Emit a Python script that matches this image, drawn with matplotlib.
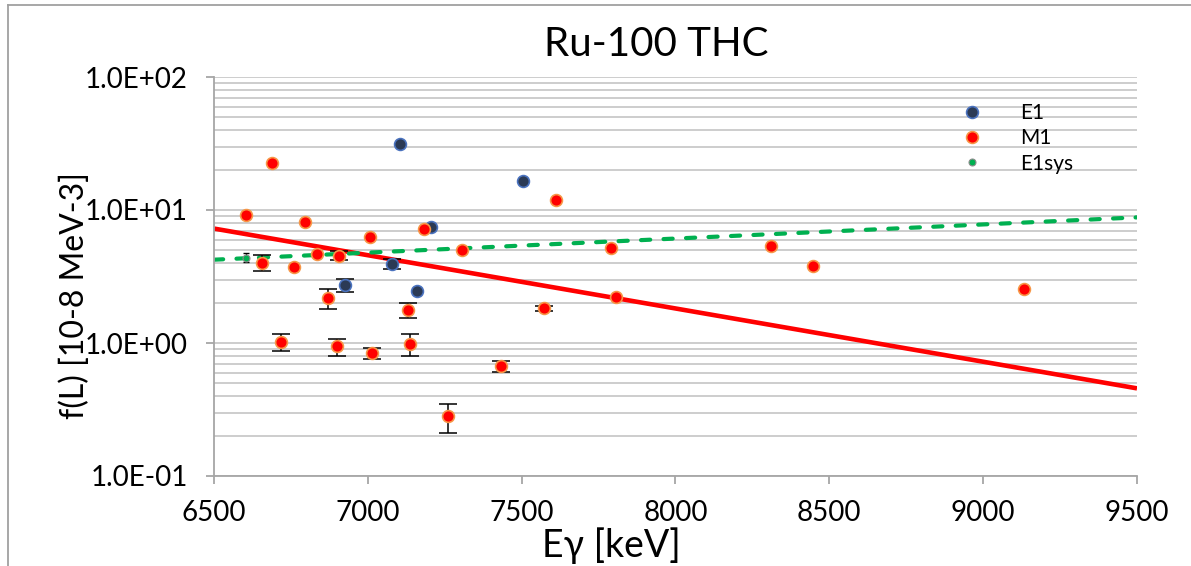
import matplotlib
matplotlib.use("Agg")
import matplotlib.pyplot as plt
from matplotlib.ticker import FixedLocator, FuncFormatter, NullFormatter
from matplotlib.lines import Line2D

plt.rcParams['font.family'] = ['Lato', 'DejaVu Sans']

# ---- data -------------------------------------------------------------
# E1 transitions: energy [keV], strength f(L) [1e-8 MeV^-3], asymmetric errors
e1_energy = [7104, 7505, 7204, 7080, 6925, 7160]
e1_strength = [31.5, 16.5, 7.4, 3.93, 2.73, 2.45]
e1_err_lo = [0.0, 0.0, 0.0, 0.34, 0.33, 0.0]
e1_err_hi = [0.0, 0.0, 0.0, 0.36, 0.30, 0.0]

# M1 transitions
m1_energy = [6603, 6690, 6657, 6759, 6796, 6835, 6907, 6871, 6718, 6901,
             7006, 7013, 7130, 7136, 7181, 7262, 7306, 7433, 7573, 7611,
             7790, 7808, 8310, 8447, 9133]
m1_strength = [9.2, 22.4, 4.02, 3.75, 8.08, 4.70, 4.51, 2.18, 1.02, 0.945,
               6.31, 0.837, 1.78, 0.983, 7.16, 0.281, 5.02, 0.668, 1.83, 11.8,
               5.18, 2.23, 5.36, 3.79, 2.56]
m1_err_lo = [0.0, 0.0, 0.56, 0.0, 0.0, 0.0, 0.30, 0.39, 0.155, 0.145,
             0.0, 0.083, 0.23, 0.19, 0.0, 0.072, 0.0, 0.059, 0.08, 0.0,
             0.0, 0.0, 0.0, 0.0, 0.0]
m1_err_hi = [0.0, 0.0, 0.57, 0.0, 0.0, 0.0, 0.38, 0.37, 0.14, 0.125,
             0.0, 0.086, 0.22, 0.19, 0.0, 0.068, 0.0, 0.060, 0.08, 0.0,
             0.0, 0.0, 0.0, 0.0, 0.0]

# E1 systematic point
e1sys_energy = [6603]
e1sys_strength = [4.39]
e1sys_err = [0.32]

# exponential trend lines (straight on a log axis), values at the axis ends
fit_energy = [6500, 9500]
m1_fit = [7.25, 0.456]
e1sys_fit = [4.23, 8.8]

x_ticks = [6500, 7000, 7500, 8000, 8500, 9000, 9500]
y_ticks = [0.1, 1.0, 10.0, 100.0]

# ---- figure -----------------------------------------------------------
W, H = 1191, 566
fig = plt.figure(figsize=(W / 100, H / 100), dpi=100)
ax = fig.add_axes([214 / W, 1 - 476 / H, (1137 - 214) / W, (476 - 77) / H])

grid_col = '#C9C9C9'
axis_col = '#A6A6A6'

ax.set_yscale('log')
ax.set_xlim(6500, 9500)
ax.set_ylim(0.1, 100)

# horizontal major + minor gridlines
for dec in [0.1, 1.0, 10.0]:
    for k in range(1, 10):
        ax.axhline(dec * k, color=grid_col, lw=1.3, zorder=0)
ax.axhline(100, color=grid_col, lw=1.3, zorder=0)

# trend lines
ax.plot(fit_energy, m1_fit, color='#FF0000', lw=3.3, solid_capstyle='butt', zorder=2)
ax.plot(fit_energy, e1sys_fit, color='#00B050', lw=3.0, ls=(0, (2.2, 3.2)),
        dash_capstyle='round', zorder=2)


def with_errors(xs, ys, lo, hi):
    keep = [i for i in range(len(xs)) if lo[i] > 0 or hi[i] > 0]
    return ([xs[i] for i in keep], [ys[i] for i in keep],
            [[lo[i] for i in keep], [hi[i] for i in keep]])


eb_kw = dict(fmt='none', ecolor='black', elinewidth=1.1, capsize=6.5, capthick=1.1, zorder=3)
mx, my, myerr = with_errors(m1_energy, m1_strength, m1_err_lo, m1_err_hi)
ax.errorbar(mx, my, yerr=myerr, **eb_kw)
ex, ey, eyerr = with_errors(e1_energy, e1_strength, e1_err_lo, e1_err_hi)
ax.errorbar(ex, ey, yerr=eyerr, **eb_kw)
ax.errorbar(e1sys_energy, e1sys_strength, yerr=[e1sys_err, e1sys_err],
            fmt='none', ecolor='black', elinewidth=1.0, capsize=2, zorder=3)

ax.plot(e1_energy, e1_strength, 'o', ms=8.5, mfc='#2B3A55', mec='#4A72BE', mew=1.2,
        ls='none', zorder=4)
ax.plot(m1_energy, m1_strength, 'o', ms=8.5, mfc='#FF0000', mec='#F79646', mew=1.2,
        ls='none', zorder=4)
ax.plot(e1sys_energy, e1sys_strength, 'o', ms=5, mfc='#00B050', mec='#8C8C8C', mew=0.8,
        ls='none', zorder=4)

# axes styling
for s in ['top', 'right']:
    ax.spines[s].set_visible(False)
for s in ['left', 'bottom']:
    ax.spines[s].set_color(axis_col)
    ax.spines[s].set_linewidth(1.3)

ax.xaxis.set_major_locator(FixedLocator(x_ticks))
ax.yaxis.set_major_locator(FixedLocator(y_ticks))
ax.yaxis.set_minor_locator(FixedLocator([]))
ax.yaxis.set_minor_formatter(NullFormatter())
ax.yaxis.set_major_formatter(FuncFormatter(lambda v, p: f"{v:.1E}"))
ax.tick_params(axis='both', which='major', direction='out', length=6, width=1.3,
               color=axis_col, labelsize=20, labelcolor='black')
ax.tick_params(axis='y', pad=13)
ax.tick_params(axis='x', pad=11)

fig.text(656 / W, 1 - 45 / H, 'Ru-100 THC', fontsize=29, ha='center', va='center')
fig.text(611 / W, 1 - 546 / H, 'Eγ [keV]', fontsize=27, ha='center', va='center')
fig.text(75 / W, 1 - 296 / H, 'f(L) [10-8 MeV-3]', fontsize=23, ha='center', va='center',
         rotation=90)

handles = [
    Line2D([], [], marker='o', ls='none', ms=8.5, mfc='#2B3A55', mec='#4A72BE', mew=1.2, label='E1'),
    Line2D([], [], marker='o', ls='none', ms=8.5, mfc='#FF0000', mec='#F79646', mew=1.2, label='M1'),
    Line2D([], [], marker='o', ls='none', ms=5, mfc='#00B050', mec='#8C8C8C', mew=0.8, label='E1sys'),
]
ax.legend(handles=handles, loc='upper left', bbox_to_anchor=(0.79, 0.955), frameon=False,
          fontsize=15, handletextpad=1.3, labelspacing=0.25, borderaxespad=0)

# outer chart frame
fig.add_artist(Line2D([7.5 / W, 7.5 / W], [0, 1 - 5 / H], color='#A0A0A0', lw=1.3))
fig.add_artist(Line2D([7.5 / W, 1], [1 - 5 / H, 1 - 5 / H], color='#A0A0A0', lw=1.3))

fig.savefig('out.png', dpi=100)
